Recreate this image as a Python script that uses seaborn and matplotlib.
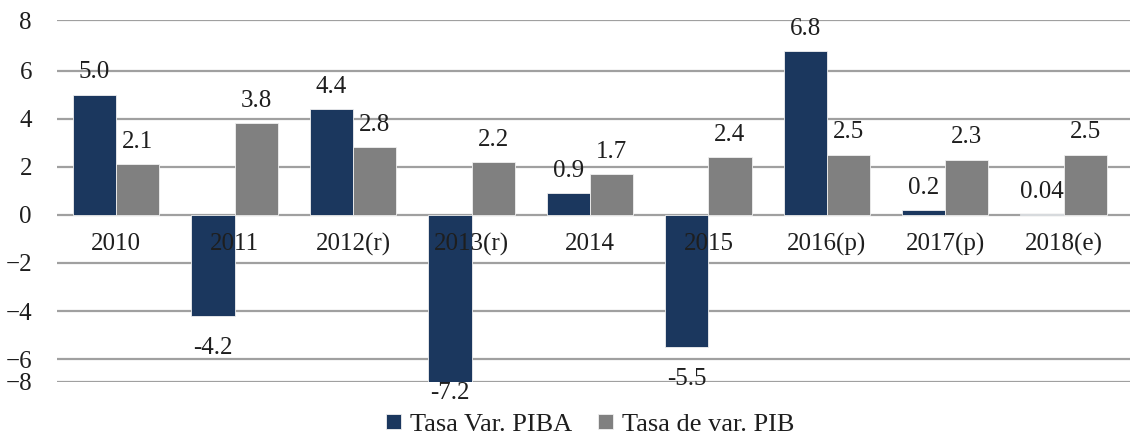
import matplotlib
matplotlib.use("Agg")
import matplotlib.pyplot as plt
import seaborn as sns
import pandas as pd

categories = ["2010", "2011", "2012(r)", "2013(r)", "2014", "2015", "2016(p)", "2017(p)", "2018(e)"]
piba = [5.0, -4.2, 4.4, -7.2, 0.9, -5.5, 6.8, 0.2, 0.04]
pib = [2.1, 3.8, 2.8, 2.2, 1.7, 2.4, 2.5, 2.3, 2.5]
piba_labels = ["5.0", "-4.2", "4.4", "-7.2", "0.9", "-5.5", "6.8", "0.2", "0.04"]
pib_labels = ["2.1", "3.8", "2.8", "2.2", "1.7", "2.4", "2.5", "2.3", "2.5"]
series_names = ["Tasa Var. PIBA", "Tasa de var. PIB"]
ytick_labels = ["\u22128", "\u22126", "\u22124", "\u22122", "0", "2", "4", "6", "8"]

sns.set_theme(style="white")
FAM = ['Liberation Serif', 'DejaVu Serif']
plt.rcParams['font.family'] = FAM
FS = 18
TC = "#1e1e1e"

df = pd.DataFrame({
    "cat": categories * 2,
    "val": piba + pib,
    "serie": [series_names[0]] * len(categories) + [series_names[1]] * len(categories),
})

colors = ["#1b375e", "#808080"]
fig = plt.figure(figsize=(11.3, 4.38), dpi=100)
ax = fig.add_axes([57 / 1130, (438 - 382) / 438, 1 - 57 / 1130, (382 - 20) / 438])

sns.barplot(data=df, x="cat", y="val", hue="serie", order=categories,
            hue_order=series_names, palette=colors, saturation=1, width=0.73, ax=ax,
            edgecolor="#f0f0f0", linewidth=0.6, legend=True)

ymin, ymax = -6.95, 8.1
ax.set_ylim(ymin, ymax)
ax.set_xlim(-0.5, len(categories) - 0.5 + 0.06)
ticks = [ymin, -6, -4, -2, 0, 2, 4, 6, ymax]
ax.set_yticks(ticks)
ax.set_yticklabels(ytick_labels, fontsize=FS, color=TC, family=FAM)
ax.tick_params(axis="y", length=0, pad=18)
ax.yaxis.grid(True, color="#a0a0a0", linewidth=1.6)
ax.set_axisbelow(True)
for s in ax.spines.values():
    s.set_visible(False)
ax.set_xlabel("")
ax.set_ylabel("")

# category labels inside plot, just under zero line
xt = ax.get_xticks()
ax.set_xticks(xt)
ax.set_xticklabels([])
ax.tick_params(axis="x", length=0)
for x, c in zip(xt, categories):
    ax.annotate(c, xy=(x, 0), xytext=(0, -21), textcoords="offset points",
                ha="center", va="center", fontsize=FS, color=TC, family=FAM)

# value labels
for cont, labels in zip(ax.containers, [piba_labels, pib_labels]):
    for p, lab in zip(cont.patches, labels):
        h = p.get_height()
        cx = p.get_x() + p.get_width() / 2
        if h >= 0:
            ax.annotate(lab, xy=(cx, h), xytext=(0, 16), textcoords="offset points",
                        ha="center", va="center", fontsize=FS, color=TC, family=FAM)
        else:
            yv = max(h, ymin)
            off = -23 if h > ymin else -8
            ax.annotate(lab, xy=(cx, yv), xytext=(0, off), textcoords="offset points",
                        ha="center", va="center", fontsize=FS, color=TC, family=FAM,
                        annotation_clip=False)

leg = ax.legend(loc="center", bbox_to_anchor=(0.497, -0.118), ncol=2, frameon=False,
                prop={"family": FAM, "size": 19},
                handlelength=0.55, handleheight=0.55, handletextpad=0.35,
                columnspacing=1.0, borderaxespad=0, borderpad=0.1)
for t in leg.get_texts():
    t.set_color(TC)

fig.savefig("out.png", dpi=100)
